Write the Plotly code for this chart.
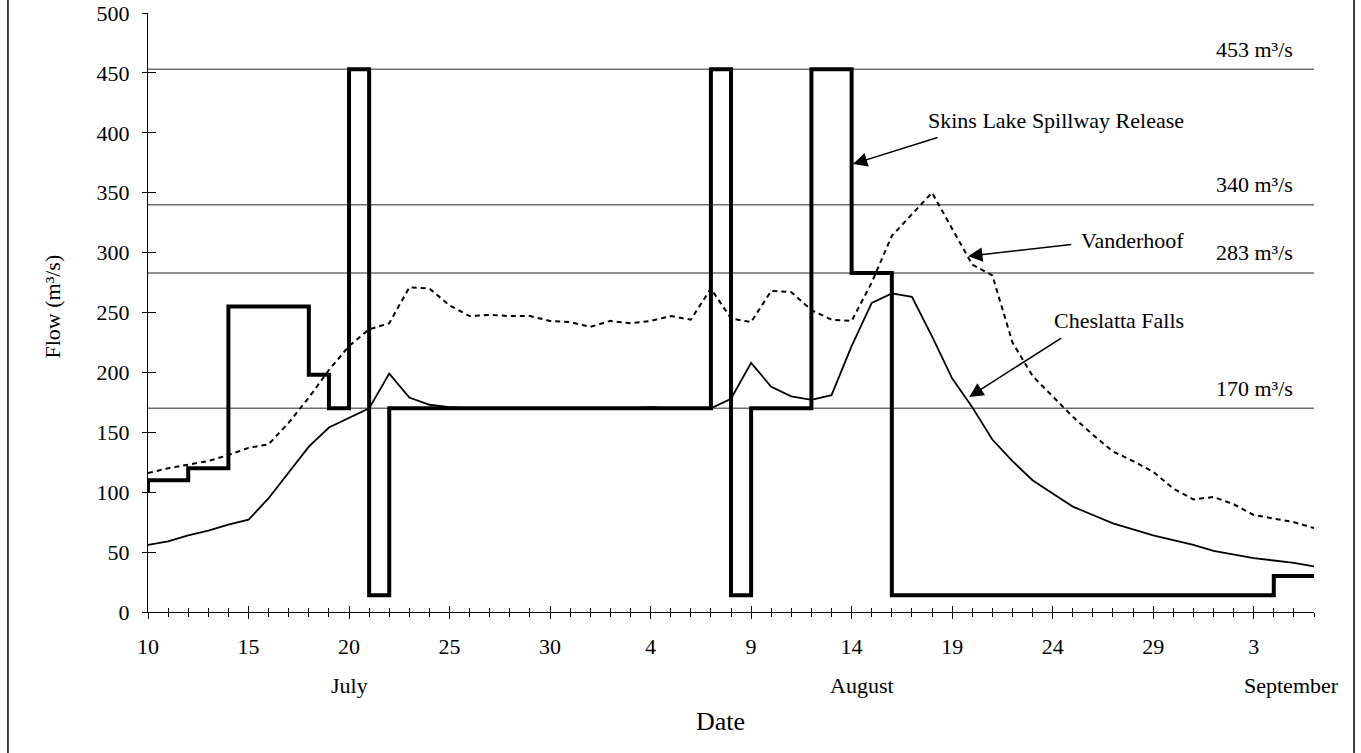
import plotly.graph_objects as go

# ---------------- data ----------------
day = list(range(59))  # days since July 10

cheslatta = [56, 59, 64, 68, 73, 77, 95, 117, 138, 154, 162, 170, 199, 179, 173, 171,
             170, 170, 170, 170, 170, 170, 170, 170, 170, 171, 170, 170, 170, 178, 208,
             188, 180, 177, 181, 222, 258, 266, 263, 230, 195, 171, 144, 126, 110, 99,
             88, 81, 74, 69, 64, 60, 56, 51, 48, 45, 43, 41, 38]

vanderhoof = [116, 120, 123, 126, 131, 137, 140, 158, 179, 202, 222, 236, 241, 271, 270,
              256, 247, 248, 247, 247, 243, 242, 238, 243, 241, 243, 247, 244, 270, 245,
              242, 268, 267, 252, 244, 243, 275, 314, 332, 350, 320, 290, 281, 225, 197,
              180, 163, 148, 134, 126, 117, 103, 94, 96, 90, 81, 78, 75, 70]

release_day = [0, 0, 2, 4, 8, 9, 10, 11, 12, 28, 29, 30, 33, 35, 37, 56, 58]
release_flow = [100, 110, 120, 255, 198, 170, 453, 14, 170, 453, 14, 170, 453, 283, 14, 30, 30]

ref_levels = [453, 340, 283, 170]
ref_labels = ["453 m³/s", "340 m³/s", "283 m³/s", "170 m³/s"]

tick_days = [0, 5, 10, 15, 20, 25, 30, 35, 40, 45, 50, 55]
tick_labels = ["10", "15", "20", "25", "30", "4", "9", "14", "19", "24", "29", "3"]

months = ["July", "August", "September"]
month_pos = [10, 35.5, 56.9]

FONT = "Liberation Serif, Times New Roman, serif"
X_RANGE = [0, 58]
Y_RANGE = [0, 500]

fig = go.Figure()

# reference levels
for lvl, lab in zip(ref_levels, ref_labels):
    fig.add_hline(y=lvl, line=dict(color="#6e6e6e", width=1.5), layer="below")
    fig.add_annotation(x=0.9837, xref="paper", y=lvl, yref="y", text=lab,
                       showarrow=False, xanchor="right", yanchor="middle", yshift=20,
                       font=dict(family=FONT, size=22, color="black"))

fig.add_trace(go.Scatter(x=day, y=vanderhoof, mode="lines", name="Vanderhoof",
                         line=dict(color="black", width=2, dash="5px,4px")))
fig.add_trace(go.Scatter(x=day, y=cheslatta, mode="lines", name="Cheslatta Falls",
                         line=dict(color="black", width=1.8)))
fig.add_trace(go.Scatter(x=release_day, y=release_flow, mode="lines",
                         name="Skins Lake Spillway Release", line_shape="hv",
                         line=dict(color="black", width=4)))
# dummy trace for the overlay axes (inside tick halves)
fig.add_trace(go.Scatter(x=[None], y=[None], xaxis="x2", yaxis="y2", showlegend=False,
                         hoverinfo="skip"))

# series labels with arrows
series_labels = [
    ("Skins Lake Spillway Release", 410.5, 35.07, 374, 39.35, 396.5),
    ("Vanderhoof", 310.5, 40.8, 297, 46.0, 307),
    ("Cheslatta Falls", 243.7, 40.85, 179.5, 45.5, 229.5),
]
for txt, ty, hx, hy, tx, tyy in series_labels:
    fig.add_annotation(x=0.8902, xref="paper", y=ty, yref="y", text=txt, showarrow=False,
                       xanchor="right", yanchor="middle",
                       font=dict(family=FONT, size=22, color="black"))
    fig.add_annotation(x=hx, y=hy, xref="x", yref="y", ax=tx, ay=tyy, axref="x", ayref="y",
                       text="", showarrow=True, arrowhead=2, arrowsize=1.9, arrowwidth=1.5,
                       arrowcolor="black", standoff=0, startstandoff=0)

for m, p in zip(months, month_pos):
    fig.add_annotation(x=p, xref="x", y=-0.1219, yref="paper", text=m, showarrow=False,
                       xanchor="center", yanchor="middle",
                       font=dict(family=FONT, size=22, color="black"))

fig.add_annotation(x=0.4914, xref="paper", y=-0.1836, yref="paper", text="Date",
                   showarrow=False, xanchor="center", yanchor="middle",
                   font=dict(family=FONT, size=26, color="black"))
fig.add_annotation(x=-0.0823, xref="paper", y=0.51, yref="paper", text="Flow (m³/s)",
                   showarrow=False, textangle=-90, xanchor="center", yanchor="middle",
                   font=dict(family=FONT, size=22, color="black"))

# outer chart border (left & right edges visible)
fig.add_shape(type="rect", xref="paper", yref="paper", x0=-0.1201, x1=1.0343,
              y0=-0.3, y1=1.1, line=dict(color="black", width=1.5), layer="above")

fig.update_layout(
    width=1361, height=753,
    margin=dict(l=148, r=47, t=13, b=141, autoexpand=False),
    paper_bgcolor="white", plot_bgcolor="white",
    showlegend=False,
    font=dict(family=FONT, size=22, color="black"),
    xaxis=dict(range=X_RANGE, showgrid=False, zeroline=False, showline=True,
               automargin=False,
               linecolor="black", linewidth=1.3, ticks="outside", ticklen=6,
               tickwidth=1.2, tickcolor="black", tickmode="array", tickvals=tick_days,
               ticktext=tick_labels, ticklabelstandoff=8,
               tickfont=dict(family=FONT, size=22, color="black"),
               minor=dict(tickmode="linear", tick0=0, dtick=1, ticks="outside",
                          ticklen=4, tickwidth=1.2, tickcolor="black", showgrid=False)),
    yaxis=dict(range=Y_RANGE, showgrid=False, zeroline=False, showline=True,
               automargin=False,
               linecolor="black", linewidth=1.3, ticks="outside", ticklen=5,
               tickwidth=1.2, tickcolor="black", tickmode="linear", tick0=0, dtick=50,
               ticklabelstandoff=8,
               tickfont=dict(family=FONT, size=22, color="black")),
    xaxis2=dict(range=X_RANGE, overlaying="x", anchor="y2", showgrid=False, zeroline=False,
                automargin=False,
                showline=False, ticks="inside", ticklen=6, tickwidth=1.2, tickcolor="black",
                tickmode="array", tickvals=tick_days, showticklabels=False,
                minor=dict(tickmode="linear", tick0=0, dtick=1, ticks="inside",
                           ticklen=4, tickwidth=1.2, tickcolor="black", showgrid=False)),
    yaxis2=dict(range=Y_RANGE, overlaying="y", anchor="x2", side="left", showgrid=False,
                automargin=False,
                zeroline=False, showline=False, ticks="inside", ticklen=8, tickwidth=1.2,
                tickcolor="black", tickmode="linear", tick0=0, dtick=50,
                showticklabels=False),
)

fig.write_html("out.html", config={"displayModeBar": False},
               post_script="document.body.style.margin='0';document.body.style.overflow='hidden';")
